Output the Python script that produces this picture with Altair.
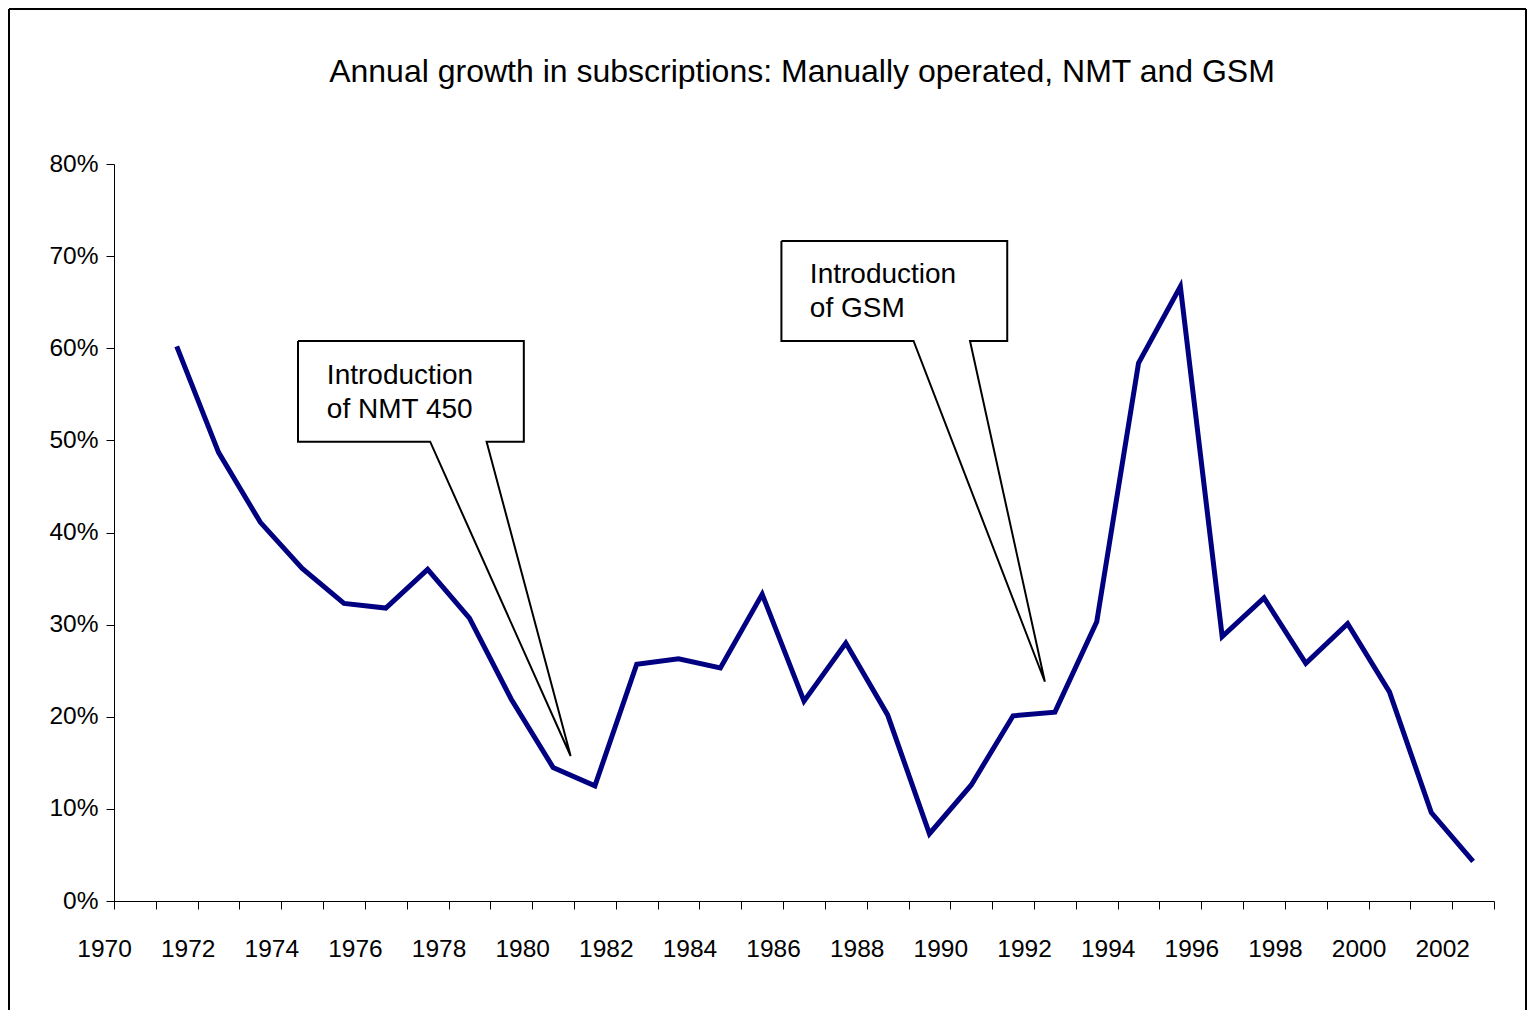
import altair as alt
import pandas as pd

FONT = "Liberation Sans"

# ---- data ----
years = list(range(1971, 2003))
growth_pct = [60.2, 48.7, 41.1, 36.1, 32.3, 31.8, 36.0, 30.7, 21.9, 14.5,
              12.5, 25.7, 26.3, 25.3, 33.3, 21.7, 28.0, 20.2, 7.3, 12.6,
              20.1, 20.5, 30.3, 58.4, 66.7, 28.7, 32.9, 25.8, 30.1, 22.7,
              9.6, 4.3]

title_text = "Annual growth in subscriptions: Manually operated, NMT and GSM"

y_ticks = [0.0, 0.1, 0.2, 0.3, 0.4, 0.5, 0.6, 0.7, 0.8]
x_ticks = [y - 0.5 for y in range(1970, 2004)]

# callout outlines (year, percent), polygon order
callout_id = ["NMT"] * 8 + ["GSM"] * 8
callout_x = [1973.90, 1979.30, 1979.30, 1978.41, 1980.42, 1977.06, 1973.90, 1973.90,
             1985.46, 1990.86, 1990.86, 1989.97, 1991.76, 1988.62, 1985.46, 1985.46]
callout_y = [60.79, 60.79, 49.86, 49.86, 15.74, 49.86, 49.86, 60.79,
             71.64, 71.64, 60.79, 60.79, 23.80, 60.79, 60.79, 71.64]

note_lines = ["Introduction", "of NMT 450", "Introduction", "of GSM"]
note_x = [1974.59, 1974.59, 1986.14, 1986.14]
note_y = [56.12, 52.43, 67.08, 63.40]

# ---- tables ----
df = pd.DataFrame({"year": years, "growth": [v / 100 for v in growth_pct]})
df_call = pd.DataFrame({
    "id": callout_id,
    "order": list(range(8)) * 2,
    "year": callout_x,
    "growth": [v / 100 for v in callout_y],
})
df_note = pd.DataFrame({"label": note_lines, "year": note_x,
                        "growth": [v / 100 for v in note_y]})

x_scale = alt.Scale(domain=[1969.5, 2002.5], nice=False, zero=False)
y_scale = alt.Scale(domain=[0, 0.8], nice=False)

x_axis = alt.Axis(
    values=x_ticks,
    labelExpr="(datum.value + 0.5) % 2 === 0 ? '' + (datum.value + 0.5) : ''",
    title=None, grid=False, tickSize=8, tickColor="black", domainColor="black",
    labelFont=FONT, labelFontSize=24.5, labelColor="black", labelPadding=28,
    labelOffset=-10, labelFlush=False, labelOverlap=False, labelBound=False,
)
y_axis = alt.Axis(
    values=y_ticks, format=".0%", title=None, grid=False, tickSize=8,
    tickColor="black", domainColor="black", labelFont=FONT,
    labelFontSize=24.5, labelColor="black", labelPadding=8,
)

X = alt.X("year:Q", scale=x_scale, axis=x_axis)
Y = alt.Y("growth:Q", scale=y_scale, axis=y_axis)

line = alt.Chart(df).mark_line(color="#000080", strokeWidth=5).encode(x=X, y=Y)

callouts = alt.Chart(df_call).mark_line(
    color="black", strokeWidth=2, strokeJoin="miter"
).encode(x=X, y=Y, detail="id:N", order="order:Q")

notes = alt.Chart(df_note).mark_text(
    font=FONT, fontSize=28, color="black", align="left", baseline="alphabetic"
).encode(x=X, y=Y, text="label:N")

one = pd.DataFrame({"t": [title_text]})
title = alt.Chart(one).mark_text(
    font=FONT, fontSize=32, color="black", align="center", baseline="alphabetic"
).encode(text="t:N", x=alt.value(688), y=alt.value(-82))

border_top = alt.Chart(one).mark_rule(color="black", strokeWidth=2).encode(
    x=alt.value(-105), x2=alt.value(1412), y=alt.value(-155))
border_left = alt.Chart(one).mark_rule(color="black", strokeWidth=2).encode(
    x=alt.value(-105), y=alt.value(-155), y2=alt.value(846))
border_right = alt.Chart(one).mark_rule(color="black", strokeWidth=2).encode(
    x=alt.value(1412), y=alt.value(-155), y2=alt.value(846))

chart = alt.layer(
    line, callouts, notes, title, border_top, border_left, border_right
).properties(
    width=1380, height=737, padding=0, background="white"
).configure_view(stroke=None)

chart.save("out.html", embed_options={"renderer": "svg", "actions": False})
